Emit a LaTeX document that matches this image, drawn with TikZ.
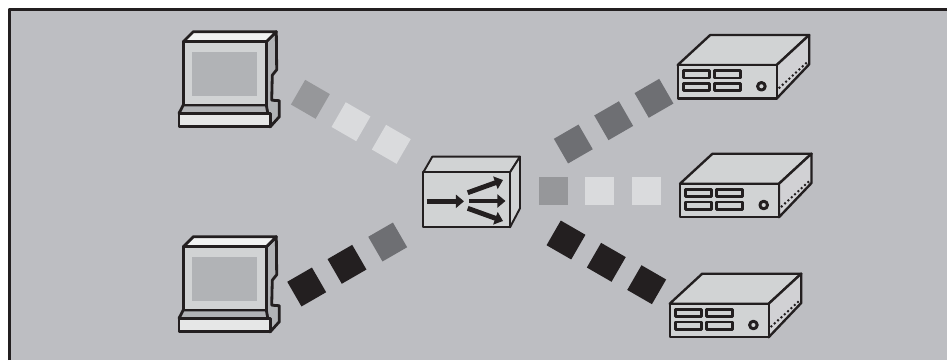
\documentclass[tikz,border=0pt]{standalone}
\usetikzlibrary{arrows.meta}
\definecolor{panelbg}{HTML}{BDBEC2}
\definecolor{inkblk}{HTML}{231F20}
\definecolor{pktlight}{HTML}{DADBDD}
\definecolor{pktmid}{HTML}{96979A}
\definecolor{pktdark}{HTML}{6E6F73}
\definecolor{facelt}{HTML}{D1D3D4}
\definecolor{facemd}{HTML}{B1B3B6}
\tikzset{
  every picture/.style={line join=round},
  packet/.style={minimum width=0.57cm, minimum height=0.57cm, inner sep=0pt, outer sep=0pt},
  outline/.style={draw=inkblk, line width=1.35pt},
  pcline/.style={draw=inkblk, line width=1.6pt},
  fastarrow/.style={-{Triangle[length=4.6pt, width=7.4pt]}, inkblk, line width=2.8pt},
  % coordinates of the pics are the picture's pixels, measured from the monitor's top left corner
  computer/.pic={
    \draw[pcline, fill=facemd] (83,0) -- (93,-10) -- (93.4,28) -- (89,33.5) -- (88.4,58.5)
      -- (96,59) -- (96,75) -- (87,85) -- (83,70) -- cycle;
    \draw[pcline, fill=facemd] (-4.3,71.6) -- (0,63.3) -- (83,63.3) -- (87,85) -- cycle;
    \draw[pcline, fill=white!70!facelt] (0,0) -- (10,-10) -- (93,-10) -- (83,0) -- cycle;
    \draw[pcline, fill=facelt] (0,0) rectangle (83,63.3);
    \fill[facemd] (9,10.7) rectangle (73.4,54);
    \draw[pcline, fill=white!45!facelt] (-4.3,71.6) rectangle (87,85);
  },
  router/.pic={
    \draw[outline, fill=facelt] (0,0) -- (32.5,-30) -- (131.5,-30) -- (99,0) -- cycle;
    \draw[outline, fill=white!30!panelbg] (99,0) -- (131.5,-30) -- (131.5,-0.7) -- (99,33.5) -- cycle;
    \draw[outline, fill=facelt] (0,0) rectangle (99,33.5);
    \foreach \x in {5.7,36.7}
      \foreach \y in {5.7,18.3}
        \draw[outline, line width=1.5pt, fill=facelt] (\x,\y) rectangle ++(26,7.3);
    \draw[inkblk, line width=1.7pt, fill=facelt] (83.7,21.3) circle (3.8);
    \foreach \t in {0,...,8}
      \fill[inkblk] (101.7+3.33*\t,22.7-3.05*\t) circle (1.4);
  },
}
\begin{document}
\begin{tikzpicture}[x=0.02cm, y=-0.02cm]
  \useasboundingbox (0,0) rectangle (947,360);
  % ---------- panel, ruled on top and left only
  \fill[panelbg] (8,8) rectangle (947,360);
  \draw[inkblk, line width=1.7pt] (9.5,360) -- (9.5,9.5) -- (947,9.5);
  % ---------- hosts
  \pic at (183.3,41.7) {computer};
  \pic at (183.3,246.7) {computer};
  \pic at (677.7,65) {router};
  \pic at (680,183.7) {router};
  \pic at (669.7,303.7) {router};
  % ---------- switch in the middle
  \draw[outline, line width=1.1pt, fill=facelt] (423.3,172.3) -- (432.3,156.7) -- (520,156.7) -- (510,172.3) -- cycle;
  \draw[outline, line width=1.1pt, fill=facelt] (510,172.3) -- (520,156.7) -- (520,208.3) -- (510,227.3) -- cycle;
  \draw[outline, line width=1.1pt, fill=facelt] (423.3,172.3) rectangle (510,227.3);
  \coordinate (inL) at (426.7,201.3);
  \coordinate (inR) at (464,201.3);
  \coordinate (outAL) at (467.7,192.7);
  \coordinate (outAR) at (503,180);
  \coordinate (outBL) at (469,201);
  \coordinate (outBR) at (505.5,201);
  \coordinate (outCL) at (467.7,208.3);
  \coordinate (outCR) at (503,221);
  \draw[fastarrow] (inL) -- (inR);
  \draw[fastarrow] (outAL) -- (outAR);
  \draw[fastarrow] (outBL) -- (outBR);
  \draw[fastarrow] (outCL) -- (outCR);
  % ---------- packets on their way
  \foreach \name/\px/\py/\rot/\col in {
      ua/310.4/99.3/-30/pktmid, ub/351/121.7/-30/pktlight, uc/391.3/144.3/-30/pktlight,
      la/306.7/287/30/inkblk, lb/347/264.3/30/inkblk, lc/387.7/242/30/pktdark,
      ra/573.3/144/30/pktdark, rb/613.7/120.7/30/pktdark, rc/654/98.3/30/pktdark,
      ma/553.3/191/0/pktmid, mb/599.7/191/0/pktlight, mc/646.3/191/0/pktlight,
      da/566/240/-30/inkblk, db/606.3/262.3/-30/inkblk, dc/646.7/284.7/-30/inkblk}
    \node[packet, fill=\col, rotate=\rot] (\name) at (\px,\py) {};
\end{tikzpicture}
\end{document}
